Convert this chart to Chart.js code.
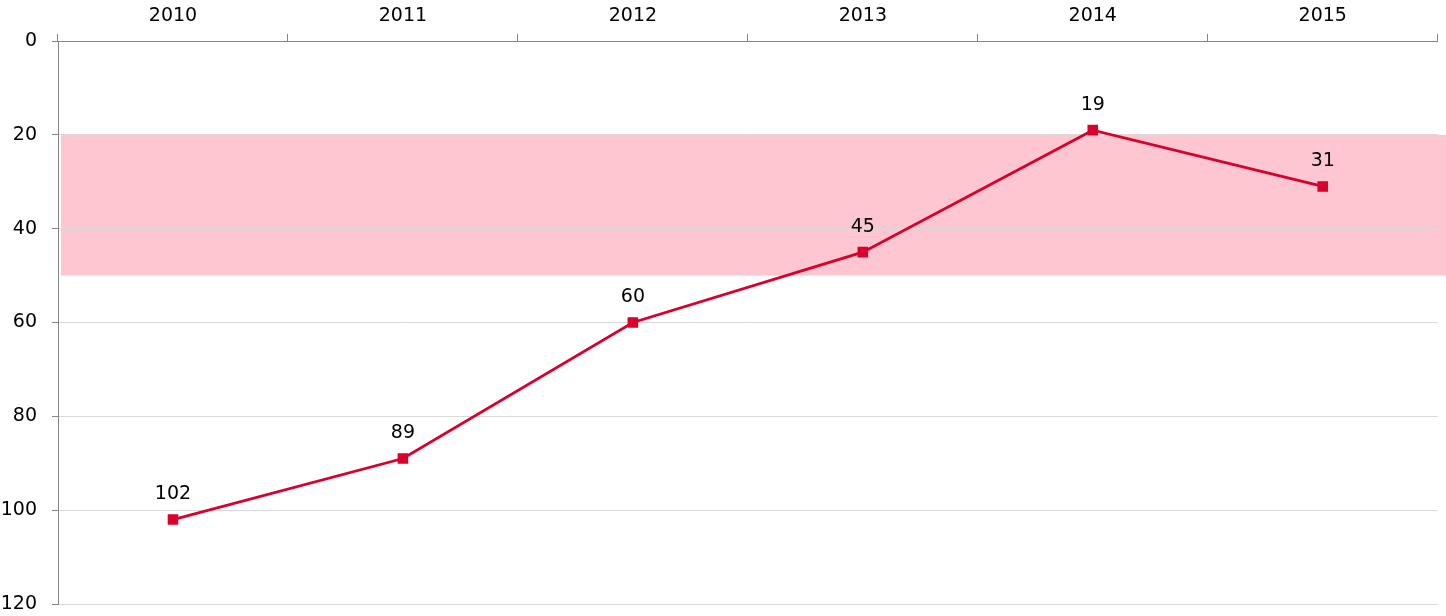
<!DOCTYPE html>
<html>
<head>
<meta charset="utf-8">
<script src="https://cdn.jsdelivr.net/npm/chart.js@4"></script>
<style>
  html, body { margin: 0; padding: 0; background: #fff; }
  #wrap { width: 1446px; height: 616px; }
</style>
</head>
<body>
<div id="wrap"><canvas id="grafico" width="1446" height="616"></canvas></div>
<script>
// datos del grafico
const anios = ['2010', '2011', '2012', '2013', '2014', '2015'];
const valores = [102, 89, 60, 45, 19, 31];
const ticksY = [0, 20, 40, 60, 80, 100, 120];
const franja = [20, 50];

const fuente = "'Century Gothic', 'DejaVu Sans', sans-serif";
const rojo = '#d9002b';

// franja rosa de fondo
const pluginFranja = {
  id: 'franja',
  beforeDraw(chart) {
    const { ctx, chartArea, scales } = chart;
    const y1 = scales.y.getPixelForValue(franja[0]);
    const y2 = scales.y.getPixelForValue(franja[1]);
    ctx.save();
    ctx.fillStyle = '#fdc6d0';
    ctx.fillRect(chartArea.left + 3, y1, chart.width - chartArea.left - 3, y2 - y1);
    ctx.restore();
  }
};

// etiquetas encima de cada punto
const pluginEtiquetas = {
  id: 'etiquetas',
  afterDatasetsDraw(chart) {
    const { ctx } = chart;
    const meta = chart.getDatasetMeta(0);
    ctx.save();
    ctx.font = '19px ' + fuente;
    ctx.fillStyle = '#000';
    ctx.textAlign = 'center';
    ctx.textBaseline = 'middle';
    meta.data.forEach((p, i) => {
      ctx.fillText(String(valores[i]), p.x, p.y - 25);
    });
    ctx.restore();
  }
};

new Chart(document.getElementById('grafico').getContext('2d'), {
  type: 'line',
  data: {
    labels: anios,
    datasets: [{
      data: valores,
      borderColor: rojo,
      backgroundColor: rojo,
      borderWidth: 2.8,
      pointStyle: 'rect',
      pointRadius: 5.5,
      pointHoverRadius: 5.5,
      tension: 0,
      fill: false
    }]
  },
  options: {
    responsive: false,
    animation: false,
    layout: { padding: { top: 0, right: 8, bottom: 12, left: 0 } },
    plugins: { legend: { display: false }, tooltip: { enabled: false } },
    scales: {
      x: {
        position: 'top',
        offset: true,
        grid: { offset: true, drawOnChartArea: false, tickLength: 7, tickColor: '#868686' },
        border: { color: '#868686', width: 1 },
        ticks: { color: '#000', font: { family: fuente, size: 19 }, padding: 7, maxRotation: 0 },
        afterFit(scale) { scale.height = 41; scale.paddingLeft = 0; scale.paddingRight = 0; }
      },
      y: {
        reverse: true,
        min: 0,
        max: 120,
        afterBuildTicks(scale) { scale.ticks = ticksY.map(v => ({ value: v })); },
        grid: { color: '#d9d9d9', tickLength: 6, tickColor: '#868686' },
        border: { color: '#868686', width: 1 },
        ticks: { color: '#000', font: { family: fuente, size: 19 }, padding: 15 },
        afterFit(scale) { scale.width = 58; scale.paddingTop = 0; scale.paddingBottom = 0; }
      }
    }
  },
  plugins: [pluginFranja, pluginEtiquetas]
});
</script>
</body>
</html>
